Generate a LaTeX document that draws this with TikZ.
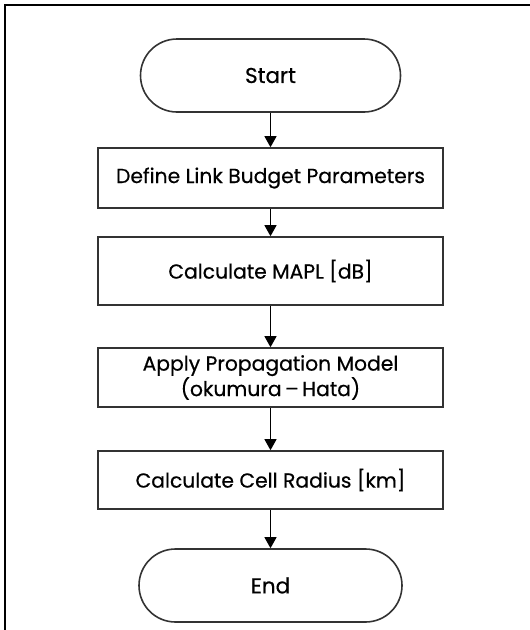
\documentclass[tikz,border=0pt]{standalone}
\usepackage{fontspec}
\setmainfont{Poppins}[FakeBold=0.5]
\usepackage{tikz}
\usetikzlibrary{arrows.meta}

\begin{document}
\begin{tikzpicture}[x=1pt,y=-1pt,
    line width=1.6pt, draw=black!80,
    box/.style={draw, rectangle, minimum width=345pt, inner sep=0pt,
        align=center, font=\fontsize{20.3}{24}\selectfont},
    term/.style={draw, rectangle, rounded corners=36.5pt, minimum height=73pt,
        inner sep=0pt, font=\fontsize{21.5}{24}\selectfont},
    flow/.style={-{Triangle[width=12pt,length=11pt]}, line width=1.2pt, draw=black}]

    \useasboundingbox (0,0) rectangle (530,630);
    \draw[line width=2pt,black] (4.5,630) -- (4.5,4.5) -- (530,4.5);

    \node[term,minimum width=260pt] (start) at (270.5,75.5) {Start};
    \node[box,minimum height=60pt] (define) at (270.5,178) {Define Link Budget Parameters};
    \node[box,minimum height=68pt] (mapl) at (270.5,271) {Calculate MAPL [dB]};
    \node[box,minimum height=59pt] (model) at (270.5,377.5) {Apply Propagation Model\\(okumura\,--\,Hata)};
    \node[box,minimum height=58pt] (radius) at (270.5,480) {Calculate Cell Radius [km]};
    \node[term,minimum width=263pt] (stop) at (270.5,585.5) {End};

    \foreach \a/\b in {start/define,define/mapl,mapl/model,model/radius,radius/stop}
        \draw[flow] (\a) -- (\b);

\end{tikzpicture}
\end{document}
